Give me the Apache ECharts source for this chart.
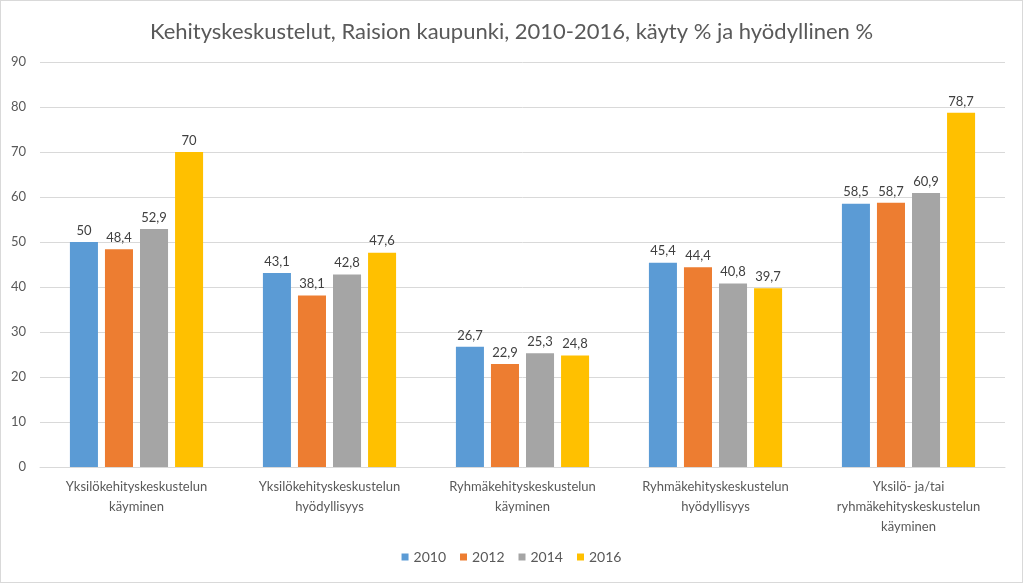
<!DOCTYPE html>
<html><head><meta charset="utf-8">
<script src="https://cdn.jsdelivr.net/npm/echarts@6/dist/echarts.min.js"></script>
<style>html,body{margin:0;padding:0;background:#fff}#c{width:1023px;height:583px;box-sizing:border-box;border:1px solid #d9d9d9}</style>
</head><body><div id="c"></div>
<script>
const categories = ["Yksilökehityskeskustelun\nkäyminen","Yksilökehityskeskustelun\nhyödyllisyys","Ryhmäkehityskeskustelun\nkäyminen","Ryhmäkehityskeskustelun\nhyödyllisyys","Yksilö- ja/tai\nryhmäkehityskeskustelun\nkäyminen"];
const years = ["2010","2012","2014","2016"];
const v2010 = [50, 43.1, 26.7, 45.4, 58.5];
const v2012 = [48.4, 38.1, 22.9, 44.4, 58.7];
const v2014 = [52.9, 42.8, 25.3, 40.8, 60.9];
const v2016 = [70, 47.6, 24.8, 39.7, 78.7];
const colors = ["#5B9BD5","#ED7D31","#A5A5A5","#FFC000"];
const font = "Lato, 'Open Sans', sans-serif";
const chart = echarts.init(document.getElementById('c'));
const mk = (name, data, i) => ({
  name, type:'bar', data, barGap:'25%', barCategoryGap:'31%',
  itemStyle:{color:colors[i]},
  label:{show:true, position:'top', distance:5, color:'#404040', fontSize:13, fontFamily:font,
    formatter:p=>String(p.value).replace('.',',')}
});
chart.setOption({
  animation:false,
  title:{text:'Kehityskeskustelut, Raision kaupunki, 2010-2016, käyty % ja hyödyllinen %', left:'center', top:15,
    textStyle:{fontSize:22, fontWeight:'normal', color:'#595959', fontFamily:font}},
  legend:{data:years, bottom:13, left:'center', itemWidth:7, itemHeight:7, itemGap:14, icon:'rect',
    textStyle:{fontSize:14, color:'#595959', fontFamily:font}},
  grid:{left:39, right:17, top:61, bottom:115, containLabel:false},
  xAxis:{type:'category', data:categories,
    axisLine:{lineStyle:{color:'#D9D9D9'}}, axisTick:{show:false},
    axisLabel:{color:'#595959', fontSize:13, fontFamily:font, lineHeight:20, margin:10, interval:0}},
  yAxis:{type:'value', min:0, max:90, interval:10,
    axisLine:{show:false}, axisTick:{show:false},
    splitLine:{lineStyle:{color:'#D9D9D9'}},
    axisLabel:{color:'#595959', fontSize:13, fontFamily:font, margin:14}},
  series:[mk(years[0],v2010,0),mk(years[1],v2012,1),mk(years[2],v2014,2),mk(years[3],v2016,3)]
});
</script></body></html>
